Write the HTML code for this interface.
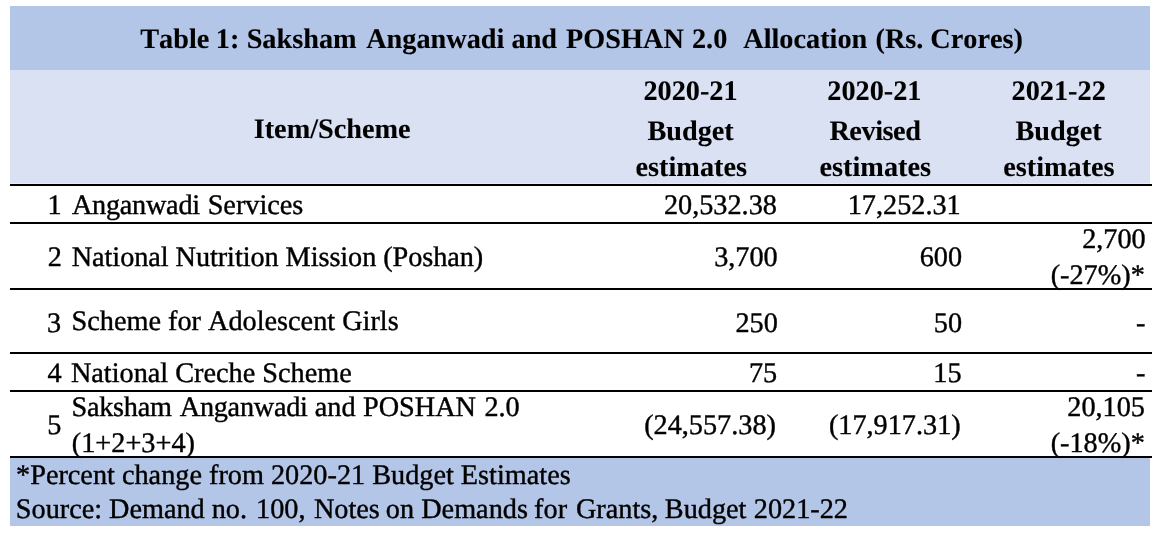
<!DOCTYPE html>
<html lang="en">
<head>
<meta charset="utf-8">
<title>Table 1: Saksham Anganwadi and POSHAN 2.0 Allocation (Rs. Crores)</title>
<style>
html,body{margin:0;padding:0;background:#fff;}
body{width:1176px;height:550px;overflow:hidden;}
svg{display:block;}
text{font-family:"Liberation Serif","Times New Roman",Times,serif;font-size:28.25px;fill:#000;font-kerning:none;text-rendering:geometricPrecision;white-space:pre;stroke:#000;stroke-width:0.4px;}
.b{font-weight:bold;stroke-width:0.1px;}
.m{text-anchor:middle;}
.r{text-anchor:end;}
</style>
</head>
<body>
<svg width="1176" height="550" viewBox="0 0 1176 550">
<rect x="0" y="0" width="1176" height="550" fill="#ffffff"/>
<rect x="10" y="6" width="1140" height="64" fill="#b4c6e7"/>
<rect x="10" y="70" width="1140" height="114" fill="#dae1f2"/>
<rect x="10" y="458" width="1140" height="68" fill="#b4c6e7"/>
<rect x="10" y="183" width="1140" height="1" fill="#e6ecf9"/>
<g fill="#000">
<rect x="10" y="184" width="1142" height="2"/>
<rect x="10" y="222" width="1142" height="2"/>
<rect x="10" y="288" width="1142" height="2"/>
<rect x="10" y="352" width="1142" height="2"/>
<rect x="10" y="390" width="1142" height="2"/>
<rect x="10" y="456" width="1142" height="2"/>
</g>
<text class="b" y="48"><tspan x="140.27">Table </tspan><tspan x="215.86">1: </tspan><tspan x="246.66">Saksham </tspan><tspan x="366.20">Anganwadi </tspan><tspan x="511.50">and </tspan><tspan x="566.11">POSHAN </tspan><tspan x="691.95">2.0 </tspan><tspan x="743.26">Allocation </tspan><tspan x="875.55">(Rs. </tspan><tspan x="930.32">Crores)</tspan></text>
<text class="b" x="253.71" y="137.5">Item/Scheme</text>
<text class="b" x="643.42" y="99.7">2020-21</text>
<text class="b" x="647.40" y="139.5">Budget</text>
<text class="b" x="635.58" y="176.2">estimates</text>
<text class="b" x="827.32" y="99.7">2020-21</text>
<text class="b" x="829.43" y="139.5" letter-spacing="-0.45">Revised</text>
<text class="b" x="819.58" y="176.2">estimates</text>
<text class="b" x="1011.61" y="99.7">2021-22</text>
<text class="b" x="1015.45" y="139.5">Budget</text>
<text class="b" x="1003.23" y="176.2">estimates</text>
<text y="213.8"><tspan x="47.44">1 </tspan><tspan x="71.96" letter-spacing="-0.26">Anganwadi </tspan><tspan x="207.63">Services</tspan></text>
<text y="214"><tspan x="663.91">20,532.38 </tspan><tspan x="847.74">17,252.31</tspan></text>
<text y="265.6"><tspan x="47.76">2 </tspan><tspan x="71.77" letter-spacing="-0.06">National Nutrition Mission (Poshan) </tspan><tspan x="714.13">3,700 </tspan><tspan x="919.74">600</tspan></text>
<text x="1082.14" y="248">2,700</text>
<text x="1050.68" y="283.8">(-27%)*</text>
<text x="46.91" y="332">3</text>
<text x="71.54" y="330">Scheme for Adolescent Girls</text>
<text y="332"><tspan x="735.46">250 </tspan><tspan x="933.82">50</tspan></text>
<text x="1135.96" y="332.2">-</text>
<text y="382.2"><tspan x="47.48">4 </tspan><tspan x="70.90">National Creche Scheme </tspan><tspan x="748.95">75 </tspan><tspan x="933.32">15</tspan></text>
<text x="1135.96" y="382">-</text>
<text x="47.21" y="433.7">5</text>
<text y="416.1"><tspan x="71.48" letter-spacing="-0.25">Saksham </tspan><tspan x="179.76" letter-spacing="-0.26">Anganwadi </tspan><tspan x="314.81">and </tspan><tspan x="362.99">POSHAN </tspan><tspan x="484.41">2.0</tspan></text>
<text x="71.82" y="451.6">(1+2+3+4)</text>
<text y="433.9"><tspan x="644.13">(24,557.38) </tspan><tspan x="828.88">(17,917.31)</tspan></text>
<text x="1067.26" y="415.6">20,105</text>
<text x="1050.63" y="451.8">(-18%)*</text>
<text x="16.05" y="483.8">*Percent change from 2020-21 Budget Estimates</text>
<text y="518"><tspan x="15.86">Source: </tspan><tspan x="109.01">Demand </tspan><tspan x="211.70">no. </tspan><tspan x="256.02">100, </tspan><tspan x="313.93">Notes </tspan><tspan x="385.79">on </tspan><tspan x="421.20">Demands </tspan><tspan x="534.10">for </tspan><tspan x="575.94">Grants, </tspan><tspan x="664.81">Budget </tspan><tspan x="753.76">2021-22</tspan></text>
</svg>
</body>
</html>
